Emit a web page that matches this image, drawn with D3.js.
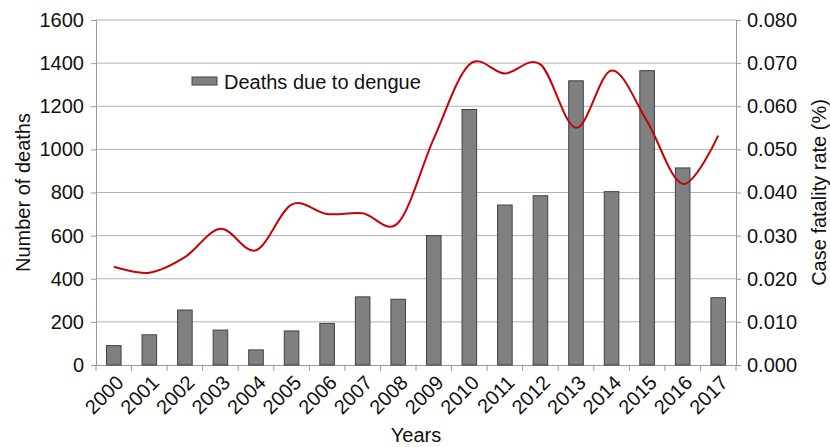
<!DOCTYPE html>
<html>
<head>
<meta charset="utf-8">
<script src="https://cdn.jsdelivr.net/npm/d3@7"></script>
<style>
  body { margin: 0; background: #fff; }
  svg text { font-family: "Liberation Sans", Arial, Helvetica, sans-serif; fill: #111; }
</style>
</head>
<body>
<svg id="chart" width="830" height="447"></svg>
<script>
// Dengue deaths and case fatality rate, 2000-2017
const years = ['2000', '2001', '2002', '2003', '2004', '2005', '2006', '2007', '2008',
  '2009', '2010', '2011', '2012', '2013', '2014', '2015', '2016', '2017'];
const deaths = [90, 140, 255, 162, 70, 158, 193, 316, 305, 600, 1185, 742, 785, 1318, 804, 1365, 914, 312];
const fatalityRate = [0.0228, 0.0214, 0.0250, 0.0316, 0.0266, 0.0372, 0.0350, 0.0352, 0.0330,
  0.0525, 0.0697, 0.0676, 0.0697, 0.0550, 0.0683, 0.0565, 0.0420, 0.0532];
const leftTicks = [0, 200, 400, 600, 800, 1000, 1200, 1400, 1600];
const rightTicks = [0, 0.01, 0.02, 0.03, 0.04, 0.05, 0.06, 0.07, 0.08];

const svg = d3.select('#chart');
const margin = { top: 20, right: 94, bottom: 82, left: 96 };
const width = 830 - margin.left - margin.right;
const height = 447 - margin.top - margin.bottom;

const plot = svg.append('g')
  .attr('transform', `translate(${margin.left}, ${margin.top})`);

// Scales
const x = d3.scaleBand()
  .domain(years)
  .range([0, width])
  .paddingInner(0.59)
  .paddingOuter(0.295);

const yLeft = d3.scaleLinear().domain([0, 1600]).range([height, 0]);
const yRight = d3.scaleLinear().domain([0, 0.08]).range([height, 0]);

// Gridlines
plot.append('g')
  .selectAll('line')
  .data(leftTicks.slice(1))
  .join('line')
  .attr('x1', 0)
  .attr('x2', width)
  .attr('y1', d => yLeft(d))
  .attr('y2', d => yLeft(d))
  .attr('stroke', '#b3b3b3')
  .attr('stroke-width', 1);

// Axes
const leftAxis = plot.append('g')
  .call(d3.axisLeft(yLeft).tickValues(leftTicks).tickSize(5).tickPadding(7).tickFormat(d3.format('d')));

const rightAxis = plot.append('g')
  .attr('transform', `translate(${width}, 0)`)
  .call(d3.axisRight(yRight).tickValues(rightTicks).tickSize(5).tickPadding(6).tickFormat(d3.format('.3f')));

const step = x.step();
const bottomAxis = plot.append('g')
  .attr('transform', `translate(0, ${height})`)
  .call(d3.axisBottom(x).tickSize(0).tickFormat(d => d));

// tick marks sit on the band boundaries
plot.append('g')
  .attr('transform', `translate(0, ${height})`)
  .selectAll('line')
  .data(d3.range(years.length + 1))
  .join('line')
  .attr('x1', i => i * step)
  .attr('x2', i => i * step)
  .attr('y1', 0)
  .attr('y2', 6)
  .attr('stroke', '#9a9a9a');

[leftAxis, rightAxis, bottomAxis].forEach(a => {
  a.select('.domain').attr('stroke', '#9a9a9a');
  a.selectAll('.tick line').attr('stroke', '#9a9a9a');
  a.selectAll('text')
    .style('font-size', '20px')
    .attr('fill', '#111');
});

bottomAxis.selectAll('.tick text')
  .attr('text-anchor', 'end')
  .attr('x', 0)
  .attr('y', 0)
  .attr('dy', 0)
  .attr('transform', 'translate(11, 19) rotate(-45)');

// Bars
plot.append('g')
  .selectAll('rect')
  .data(years)
  .join('rect')
  .attr('x', d => x(d))
  .attr('y', (d, i) => yLeft(deaths[i]))
  .attr('width', x.bandwidth())
  .attr('height', (d, i) => height - yLeft(deaths[i]))
  .attr('fill', '#808080')
  .attr('stroke', '#3a4350')
  .attr('stroke-width', 1);

// Case fatality rate line
const line = d3.line()
  .x((d, i) => x(years[i]) + x.bandwidth() / 2)
  .y(d => yRight(d))
  .curve(d3.curveCardinal.tension(0));

plot.append('path')
  .datum(fatalityRate)
  .attr('d', line)
  .attr('fill', 'none')
  .attr('stroke', '#c8000a')
  .attr('stroke-width', 2);

// Legend
const legend = svg.append('g');
legend.append('rect')
  .attr('x', 192)
  .attr('y', 77)
  .attr('width', 25)
  .attr('height', 8)
  .attr('fill', '#808080')
  .attr('stroke', '#3a4350');
legend.append('text')
  .attr('x', 224)
  .attr('y', 89)
  .style('font-size', '20px')
  .text('Deaths due to dengue');

// Axis titles
svg.append('text')
  .attr('transform', `translate(30, ${margin.top + height / 2}) rotate(-90)`)
  .attr('text-anchor', 'middle')
  .style('font-size', '20px')
  .text('Number of deaths');

svg.append('text')
  .attr('transform', `translate(826, ${margin.top + height / 2}) rotate(-90)`)
  .attr('text-anchor', 'middle')
  .style('font-size', '20px')
  .text('Case fatality rate (%)');

svg.append('text')
  .attr('x', margin.left + width / 2)
  .attr('y', 442)
  .attr('text-anchor', 'middle')
  .style('font-size', '20px')
  .text('Years');
</script>
</body>
</html>
